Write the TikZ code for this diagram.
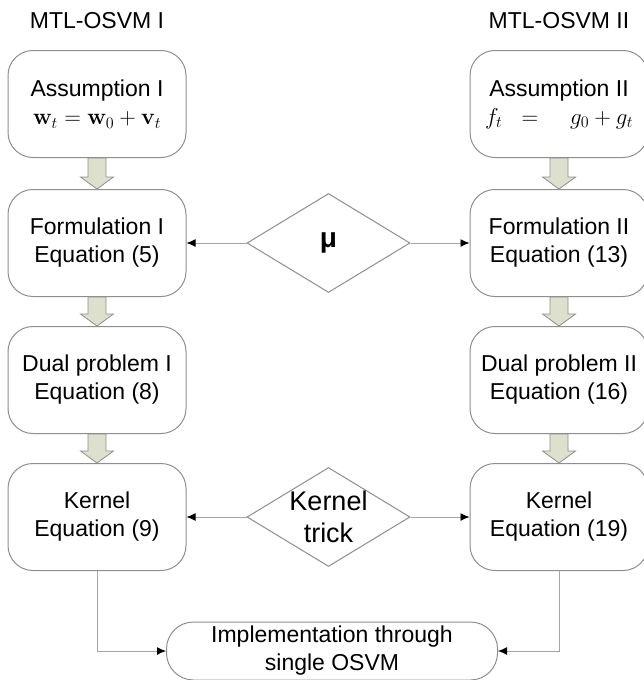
\documentclass[tikz,border=0pt]{standalone}
\usepackage{fix-cm}
\usepackage{amsmath}
\usepackage[no-math]{fontspec}
\setmainfont{Liberation Sans}
\usetikzlibrary{arrows.meta,shapes,positioning}
\definecolor{edgegray}{HTML}{8E8E8E}
\definecolor{fatgreen}{HTML}{DCE1CD}
\tikzset{
  basic/.style  = {draw=edgegray, line width=1pt, align=center,
                   font=\fontsize{23}{28}\selectfont},
  block/.style  = {basic, rectangle, rounded corners=25pt, minimum width=178pt,
                   minimum height=107pt, inner sep=0pt},
  choice/.style = {basic, diamond, minimum width=163pt, minimum height=99pt,
                   inner sep=0pt},
  final/.style  = {basic, rectangle, rounded corners=27pt, minimum width=331pt,
                   minimum height=58pt, inner sep=0pt},
  title/.style  = {font=\fontsize{23}{28}\selectfont},
  link/.style   = {draw=edgegray!80, line width=0.9pt,
                   -{Latex[black,length=9pt,width=8pt]}},
  fat/.style    = {draw=edgegray, fill=fatgreen, line width=0.8pt}
}

\begin{document}
\begin{tikzpicture}[x=1pt, y=1pt]
\useasboundingbox (0,0) rectangle (644,-680);

% titles of the two columns
\node[title] (t1) at (97,-21) {MTL-OSVM I};
\node[title] (t2) at (559,-21) {MTL-OSVM II};

% first column, relatively positioned below the assumption
\node[block] (a1) at (97,-104) {Assumption I\\ $\mathbf{w}_t=\mathbf{w}_0+\mathbf{v}_t$};
\node[block, below=31pt of a1] (f1) {Formulation I\\ Equation (5)};
\node[block, below=29pt of f1] (d1) {Dual problem I\\ Equation (8)};
\node[block, below=29pt of d1] (k1) {Kernel\\ Equation (9)};

% second column
\node[block] (a2) at (559,-104) {Assumption II\\ $f_t\;\;=\;\;\;\;g_0+g_t$};
\node[block, below=31pt of a2] (f2) {Formulation II\\ Equation (13)};
\node[block, below=29pt of f2] (d2) {Dual problem II\\ Equation (16)};
\node[block, below=29pt of d2] (k2) {Kernel\\ Equation (19)};

% shared decisions in the middle
\node[choice] (mu) at (328.5,-243) {\fontsize{28}{30}\selectfont\bfseries μ};
\node[choice, label={[font=\fontsize{27}{32}\selectfont, align=center]center:Kernel\\trick}] (kt) at (328.5,-517) {};

\node[final] (im) at (332,-651) {Implementation through\\ single OSVM};

% fat arrows down each column
\foreach \from/\to in {a1/f1, f1/d1, d1/k1, a2/f2, f2/d2, d2/k2}
  \draw[fat] ([xshift=-9pt]\from.south) -- ([xshift=-9pt, yshift=12pt]\to.north)
    -- ([xshift=-16.5pt, yshift=12pt]\to.north) -- (\to.north)
    -- ([xshift=16.5pt, yshift=12pt]\to.north) -- ([xshift=9pt, yshift=12pt]\to.north)
    -- ([xshift=9pt]\from.south) -- cycle;

\foreach \src/\dst in {mu.west/f1.east, mu.east/f2.west, kt.west/k1.east, kt.east/k2.west}
  \draw[link] (\src) -- (\dst);
\draw[link] (k1.south) |- (im.west);
\draw[link] (k2.south) |- (im.east);
\end{tikzpicture}
\end{document}
